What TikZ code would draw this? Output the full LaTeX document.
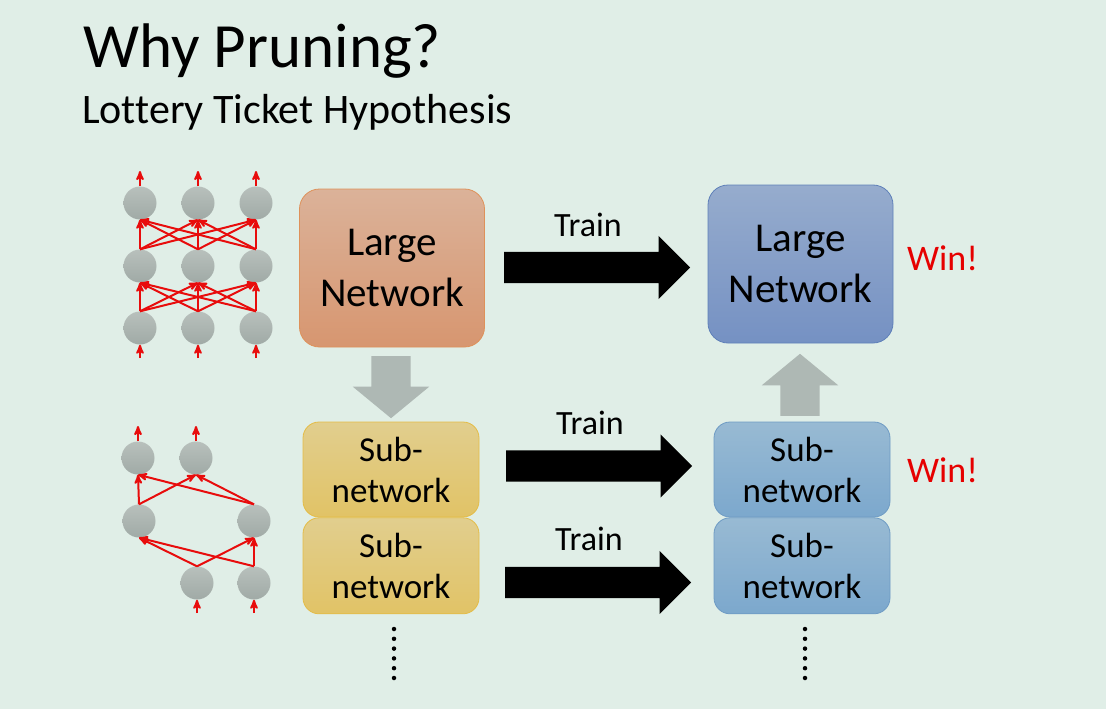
\documentclass[tikz,border=0pt]{standalone}
\usepackage{fontspec}
\setmainfont{Carlito}[Ligatures=NoCommon]
\usepackage{tikz}
\usetikzlibrary{arrows, positioning, shapes.arrows}

\definecolor{bgmint}{RGB}{224,238,231}
\definecolor{wirered}{RGB}{232,12,12}
\definecolor{winred}{RGB}{230,0,0}
\definecolor{nrtop}{RGB}{184,192,188}
\definecolor{nrbot}{RGB}{160,170,166}
\definecolor{prunegray}{RGB}{174,184,180}

\begin{document}
\begin{tikzpicture}[x=1pt, y=-1pt, >=stealth', align=center,
  netbox/.style={draw, rounded corners=20pt, minimum width=185pt, minimum height=158pt, line width=0.8pt, font=\fontsize{41}{51}\selectfont},
  subbox/.style={draw, rounded corners=16pt, minimum width=176pt, minimum height=95pt, line width=0.8pt, font=\fontsize{35}{41}\selectfont},
  neuron/.style={circle, minimum size=33pt, inner sep=0pt, top color=nrtop, bottom color=nrbot},
  wire/.style={->, color=wirered, line width=2pt},
  trainarrow/.style={single arrow, fill=black, anchor=tail, minimum height=186pt, minimum width=63pt, single arrow head extend=16pt, inner xsep=0pt, inner ysep=15.5pt},
  prunearrow/.style={single arrow, fill=prunegray, anchor=tail, minimum height=62pt, minimum width=76pt, single arrow head extend=18.5pt, single arrow tip angle=101, inner xsep=0pt, inner ysep=19.5pt},
  trainlbl/.style={font=\fontsize{34}{40}\selectfont, inner sep=0pt},
  winlbl/.style={font=\fontsize{36}{42}\selectfont, text=winred, inner sep=0pt, anchor=west},
  vdots/.style={line width=4.5pt, line cap=round, dash pattern=on 0pt off 9.8pt}]

  \useasboundingbox[fill=bgmint] (0,0) rectangle (1106,709);

  % title
  \node[anchor=base west, inner sep=0pt, font=\fontsize{63}{70}\selectfont] (title) at (83,68) {Why Pruning?};
  \node[anchor=base west, inner sep=0pt, font=\fontsize{42}{48}\selectfont] (subtitle) at (82,123) {Lottery Ticket Hypothesis};

  % large network, full connections
  \node[neuron] (a1) at (140,328) {};
  \node[neuron] (a2) at (198,328) {};
  \node[neuron] (a3) at (256,328) {};
  \node[neuron] (b1) at (140,266) {};
  \node[neuron] (b2) at (198,266) {};
  \node[neuron] (b3) at (256,266) {};
  \node[neuron] (c1) at (140,203) {};
  \node[neuron] (c2) at (198,203) {};
  \node[neuron] (c3) at (256,203) {};
  \coordinate (ia1) at (140,358); \coordinate (ia2) at (198,358); \coordinate (ia3) at (256,358);
  \coordinate (oc1) at (140,171); \coordinate (oc2) at (198,171); \coordinate (oc3) at (256,171);

  \path[wire]
        (ia1) edge (a1.south) (ia2) edge (a2.south) (ia3) edge (a3.south)
        (a1.north) edge (b1.south) edge (b2.south) edge (b3.south)
        (a2.north) edge (b1.south) edge (b2.south) edge (b3.south)
        (a3.north) edge (b1.south) edge (b2.south) edge (b3.south)
        (b1.north) edge (c1.south) edge (c2.south) edge (c3.south)
        (b2.north) edge (c1.south) edge (c2.south) edge (c3.south)
        (b3.north) edge (c1.south) edge (c2.south) edge (c3.south)
        (c1.north) edge (oc1) (c2.north) edge (oc2) (c3.north) edge (oc3)
        ;

  % pruned network
  \node[neuron] (p1) at (197,583) {};
  \node[neuron] (p2) at (254,583) {};
  \node[neuron] (q1) at (139,521) {};
  \node[neuron] (q2) at (254,521) {};
  \node[neuron] (r1) at (138,458) {};
  \node[neuron] (r2) at (196,458) {};
  \coordinate (ip1) at (197,613); \coordinate (ip2) at (254,613);
  \coordinate (or1) at (138,426); \coordinate (or2) at (196,426);

  \path[wire]
        (ip1) edge (p1.south) (ip2) edge (p2.south)
        (p1.north) edge (q1.south) edge (q2.south)
        (p2.north) edge (q1.south) edge (q2.south)
        (q1.north) edge (r1.south) edge (r2.south)
        (q2.north) edge (r1.south) edge (r2.south)
        (r1.north) edge (or1) (r2.north) edge (or2)
        ;

  % boxes
  \node[netbox, draw={rgb,255:red,222;green,145;blue,90}, top color={rgb,255:red,219;green,178;blue,153}, bottom color={rgb,255:red,215;green,150;blue,112}] (LN) at (392,268) {Large\\Network};
  \node[netbox, draw={rgb,255:red,95;green,128;blue,185}, top color={rgb,255:red,150;green,172;blue,205}, bottom color={rgb,255:red,117;green,145;blue,195}] (LR) at (800.5,264) {Large\\Network};

  \node[subbox, draw={rgb,255:red,228;green,188;blue,70}, top color={rgb,255:red,225;green,206;blue,142}, bottom color={rgb,255:red,225;green,195;blue,102}] (SL1) at (391,469.5) {Sub-\\network};
  \node[subbox, draw={rgb,255:red,228;green,188;blue,70}, top color={rgb,255:red,225;green,206;blue,142}, bottom color={rgb,255:red,225;green,195;blue,102}, minimum height=96pt] (SL2) [below=0pt of SL1] {Sub-\\network};
  \node[subbox, draw={rgb,255:red,110;green,155;blue,196}, top color={rgb,255:red,152;green,186;blue,211}, bottom color={rgb,255:red,124;green,168;blue,205}] (SR1) at (802,469.5) {Sub-\\network};
  \node[subbox, draw={rgb,255:red,110;green,155;blue,196}, top color={rgb,255:red,152;green,186;blue,211}, bottom color={rgb,255:red,124;green,168;blue,205}, minimum height=96pt] (SR2) [below=0pt of SR1] {Sub-\\network};

  % block arrows
  \node[prunearrow, rotate=-90] (prune) at (391,356) {};
  \node[prunearrow, rotate=90] (grow) at (800,416) {};
  \node[trainarrow] (t1) at (504,267.5) {};
  \node[trainarrow] (t2) at (506,466) {};
  \node[trainarrow] (t3) at (505,582.5) {};

  \node[trainlbl] (l1) at (588,224.5) {Train};
  \node[trainlbl] (l2) at (590,423) {Train};
  \node[trainlbl] (l3) at (589,538.5) {Train};

  \node[winlbl] (w1) at (907,258.5) {Win!};
  \node[winlbl] (w2) at (907,470.5) {Win!};

  % more sub-networks
  \coordinate (dl1) at (394,629); \coordinate (dl2) at (394,678);
  \coordinate (dr1) at (805,629); \coordinate (dr2) at (805,678);
  \draw[vdots] (dl1) -- (dl2);
  \draw[vdots] (dr1) -- (dr2);
\end{tikzpicture}
\end{document}
